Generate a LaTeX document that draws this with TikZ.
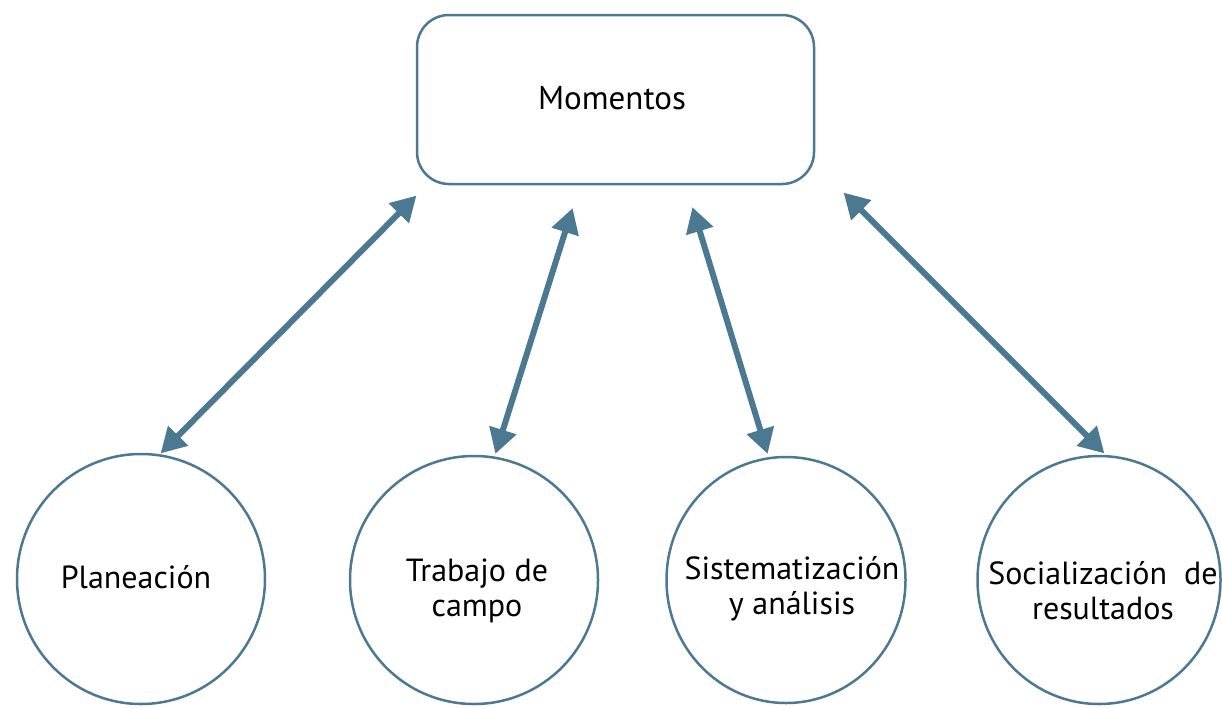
\documentclass[tikz,border=0pt]{standalone}
\usepackage{fontspec}
\setmainfont{PT Sans}
\usetikzlibrary{arrows.meta,shapes.geometric}
\definecolor{steel}{RGB}{76,121,146}
\begin{document}
\begin{tikzpicture}[x=1pt,y=-1pt,
  boxstyle/.style={draw=steel,line width=2.5pt,rounded corners=32pt,minimum width=397pt,minimum height=169pt,inner sep=0pt},
  circstyle/.style={draw=steel,line width=2.5pt,ellipse,inner sep=0pt,align=center,font=\fontsize{32}{35}\selectfont},
  link/.style={draw=steel,line width=6pt,{Triangle[length=25pt,width=27pt]}-{Triangle[length=25pt,width=27pt]},shorten <=-2pt,shorten >=-2pt}]
\useasboundingbox (0,0) rectangle (1222,707);
\node[boxstyle] (mom) at (615.5,99.5) {};
\node[font=\fontsize{33}{35}\selectfont] (momt) at (612,98) {Momentos};
\node[circstyle,minimum width=248pt,minimum height=250pt] (c1) at (141,579) {};
\node[circstyle,minimum width=248pt,minimum height=248pt] (c2) at (474,580) {};
\node[circstyle,minimum width=239pt,minimum height=246pt] (c3) at (786,580) {};
\node[circstyle,minimum width=243pt,minimum height=248pt] (c4) at (1099,580) {};
\node[circstyle,draw=none] (t1) at (136,577) {Planeación};
\node[circstyle,draw=none] (t2) at (477,591) {Trabajo de\\campo};
\node[circstyle,draw=none] (t3) at (792,589) {Sistematización\\y análisis};
\node[circstyle,draw=none] (t4) at (1103,591) {Socialización\ \ de\\resultados};
\coordinate (a1s) at (415,197);
\coordinate (a1e) at (162,452);
\coordinate (a2s) at (572,210);
\coordinate (a2e) at (496,452);
\coordinate (a3s) at (693,209);
\coordinate (a3e) at (767,452);
\coordinate (a4s) at (845,194);
\coordinate (a4e) at (1103,452);
\draw[link] (a1s) -- (a1e);
\draw[link] (a2s) -- (a2e);
\draw[link] (a3s) -- (a3e);
\draw[link] (a4s) -- (a4e);
\end{tikzpicture}
\end{document}
